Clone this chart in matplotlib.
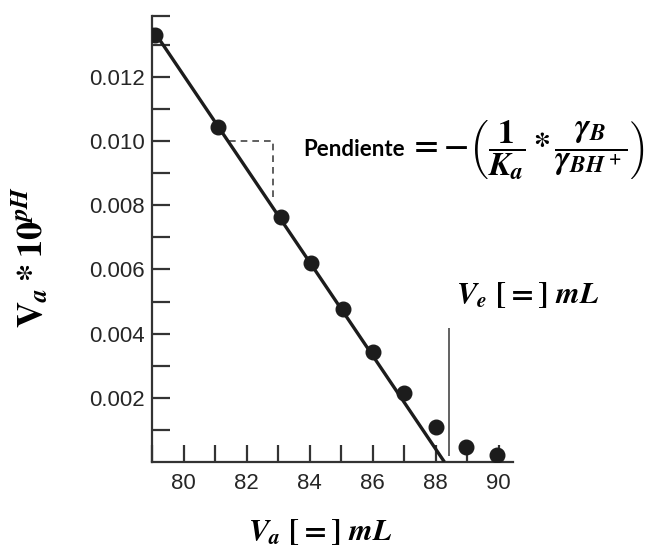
import numpy as np
import matplotlib.pyplot as plt
from matplotlib.ticker import MultipleLocator

plt.rcParams['mathtext.fontset'] = 'custom'
plt.rcParams['mathtext.rm'] = 'STIXGeneral:bold'
plt.rcParams['mathtext.bf'] = 'STIXGeneral:bold'
plt.rcParams['mathtext.it'] = 'STIXGeneral:italic:bold'

# Messpunkte (Volumen in mL, Va*10^pH)
v_titrant = [79.1, 81.1, 83.1, 84.05, 85.05, 86.0, 87.0, 88.0, 88.95, 89.95]
va_10ph = [0.0133, 0.01045, 0.00762, 0.00619, 0.00477, 0.00342, 0.00216, 0.00109, 0.00047, 0.00023]

# Regressionsgerade (Endpunkte)
fit_x = [79.0, 88.28]
fit_y = [0.01351, 0.0]

# Steigungsdreieck
slope_x = [81.45, 82.85, 82.85]
slope_y = [0.0100, 0.0100, 0.0082]

# Aequivalenzpunkt
ve_x = 88.41
ve_y = [0.0002, 0.00416]

x_ticks = [80, 82, 84, 86, 88, 90]
y_ticks = [0.002, 0.004, 0.006, 0.008, 0.010, 0.012]

fig = plt.figure(figsize=(6.56, 5.48), dpi=100)
ax = fig.add_axes([0.2317, 0.157, 0.55, 0.814])

ink = '#1c1c1c'
ax.plot(fit_x, fit_y, color=ink, linewidth=2.4, solid_capstyle='butt', zorder=3)
ax.plot(v_titrant, va_10ph, 'o', color=ink, markersize=10.5, zorder=4)
ax.plot(slope_x, slope_y, color='#444444', linestyle=(0, (4, 3)), linewidth=1.2)
ax.vlines(ve_x, ve_y[0], ve_y[1], color='#555555', linewidth=1.3)

ax.set_xlim(79, 90.45)
ax.set_ylim(0, 0.0139)

for side in ['top', 'right']:
    ax.spines[side].set_visible(False)
for side in ['left', 'bottom']:
    ax.spines[side].set_color('#333333')
    ax.spines[side].set_linewidth(1.6)

ax.set_xticks(x_ticks)
ax.set_xticklabels([str(t) for t in x_ticks])
ax.xaxis.set_minor_locator(MultipleLocator(1))
ax.set_yticks(y_ticks)
ax.set_yticklabels([f'{t:.3f}' for t in y_ticks])
ax.set_yticks([0.001, 0.003, 0.005, 0.007, 0.009, 0.011, 0.013, 0.0139], minor=True)

ax.tick_params(axis='both', which='both', direction='in', color='#333333', width=1.6)
ax.tick_params(axis='x', which='both', length=12, pad=8)
ax.tick_params(axis='y', which='both', length=13, pad=5)
ax.tick_params(axis='both', labelsize=16, labelcolor='#262626')
for lbl in ax.get_xticklabels() + ax.get_yticklabels():
    lbl.set_family('Liberation Sans')

# Achsenbeschriftungen
fig.text(0.045, 0.53, r'$\mathbf{V}_a * 10^{pH}$', rotation=90,
         ha='center', va='center', fontsize=26)
fig.text(0.489, 0.03, r'$V_a\ [=]\ mL$',
         ha='center', va='center', fontsize=22)

# Annotationen
fig.text(0.695, 0.462, r'$V_e\ [=]\ mL$', ha='left', va='center', fontsize=22)
fig.text(0.462, 0.727, 'Pendiente', ha='left', va='center', fontsize=16,
         fontweight='bold', family='Lato')
fig.text(0.622, 0.727,
         r'$= -\left(\dfrac{1}{K_a} * \dfrac{\gamma_B}{\gamma_{BH^+}}\right)$',
         ha='left', va='center', fontsize=24)

fig.savefig('out.png', dpi=100)
